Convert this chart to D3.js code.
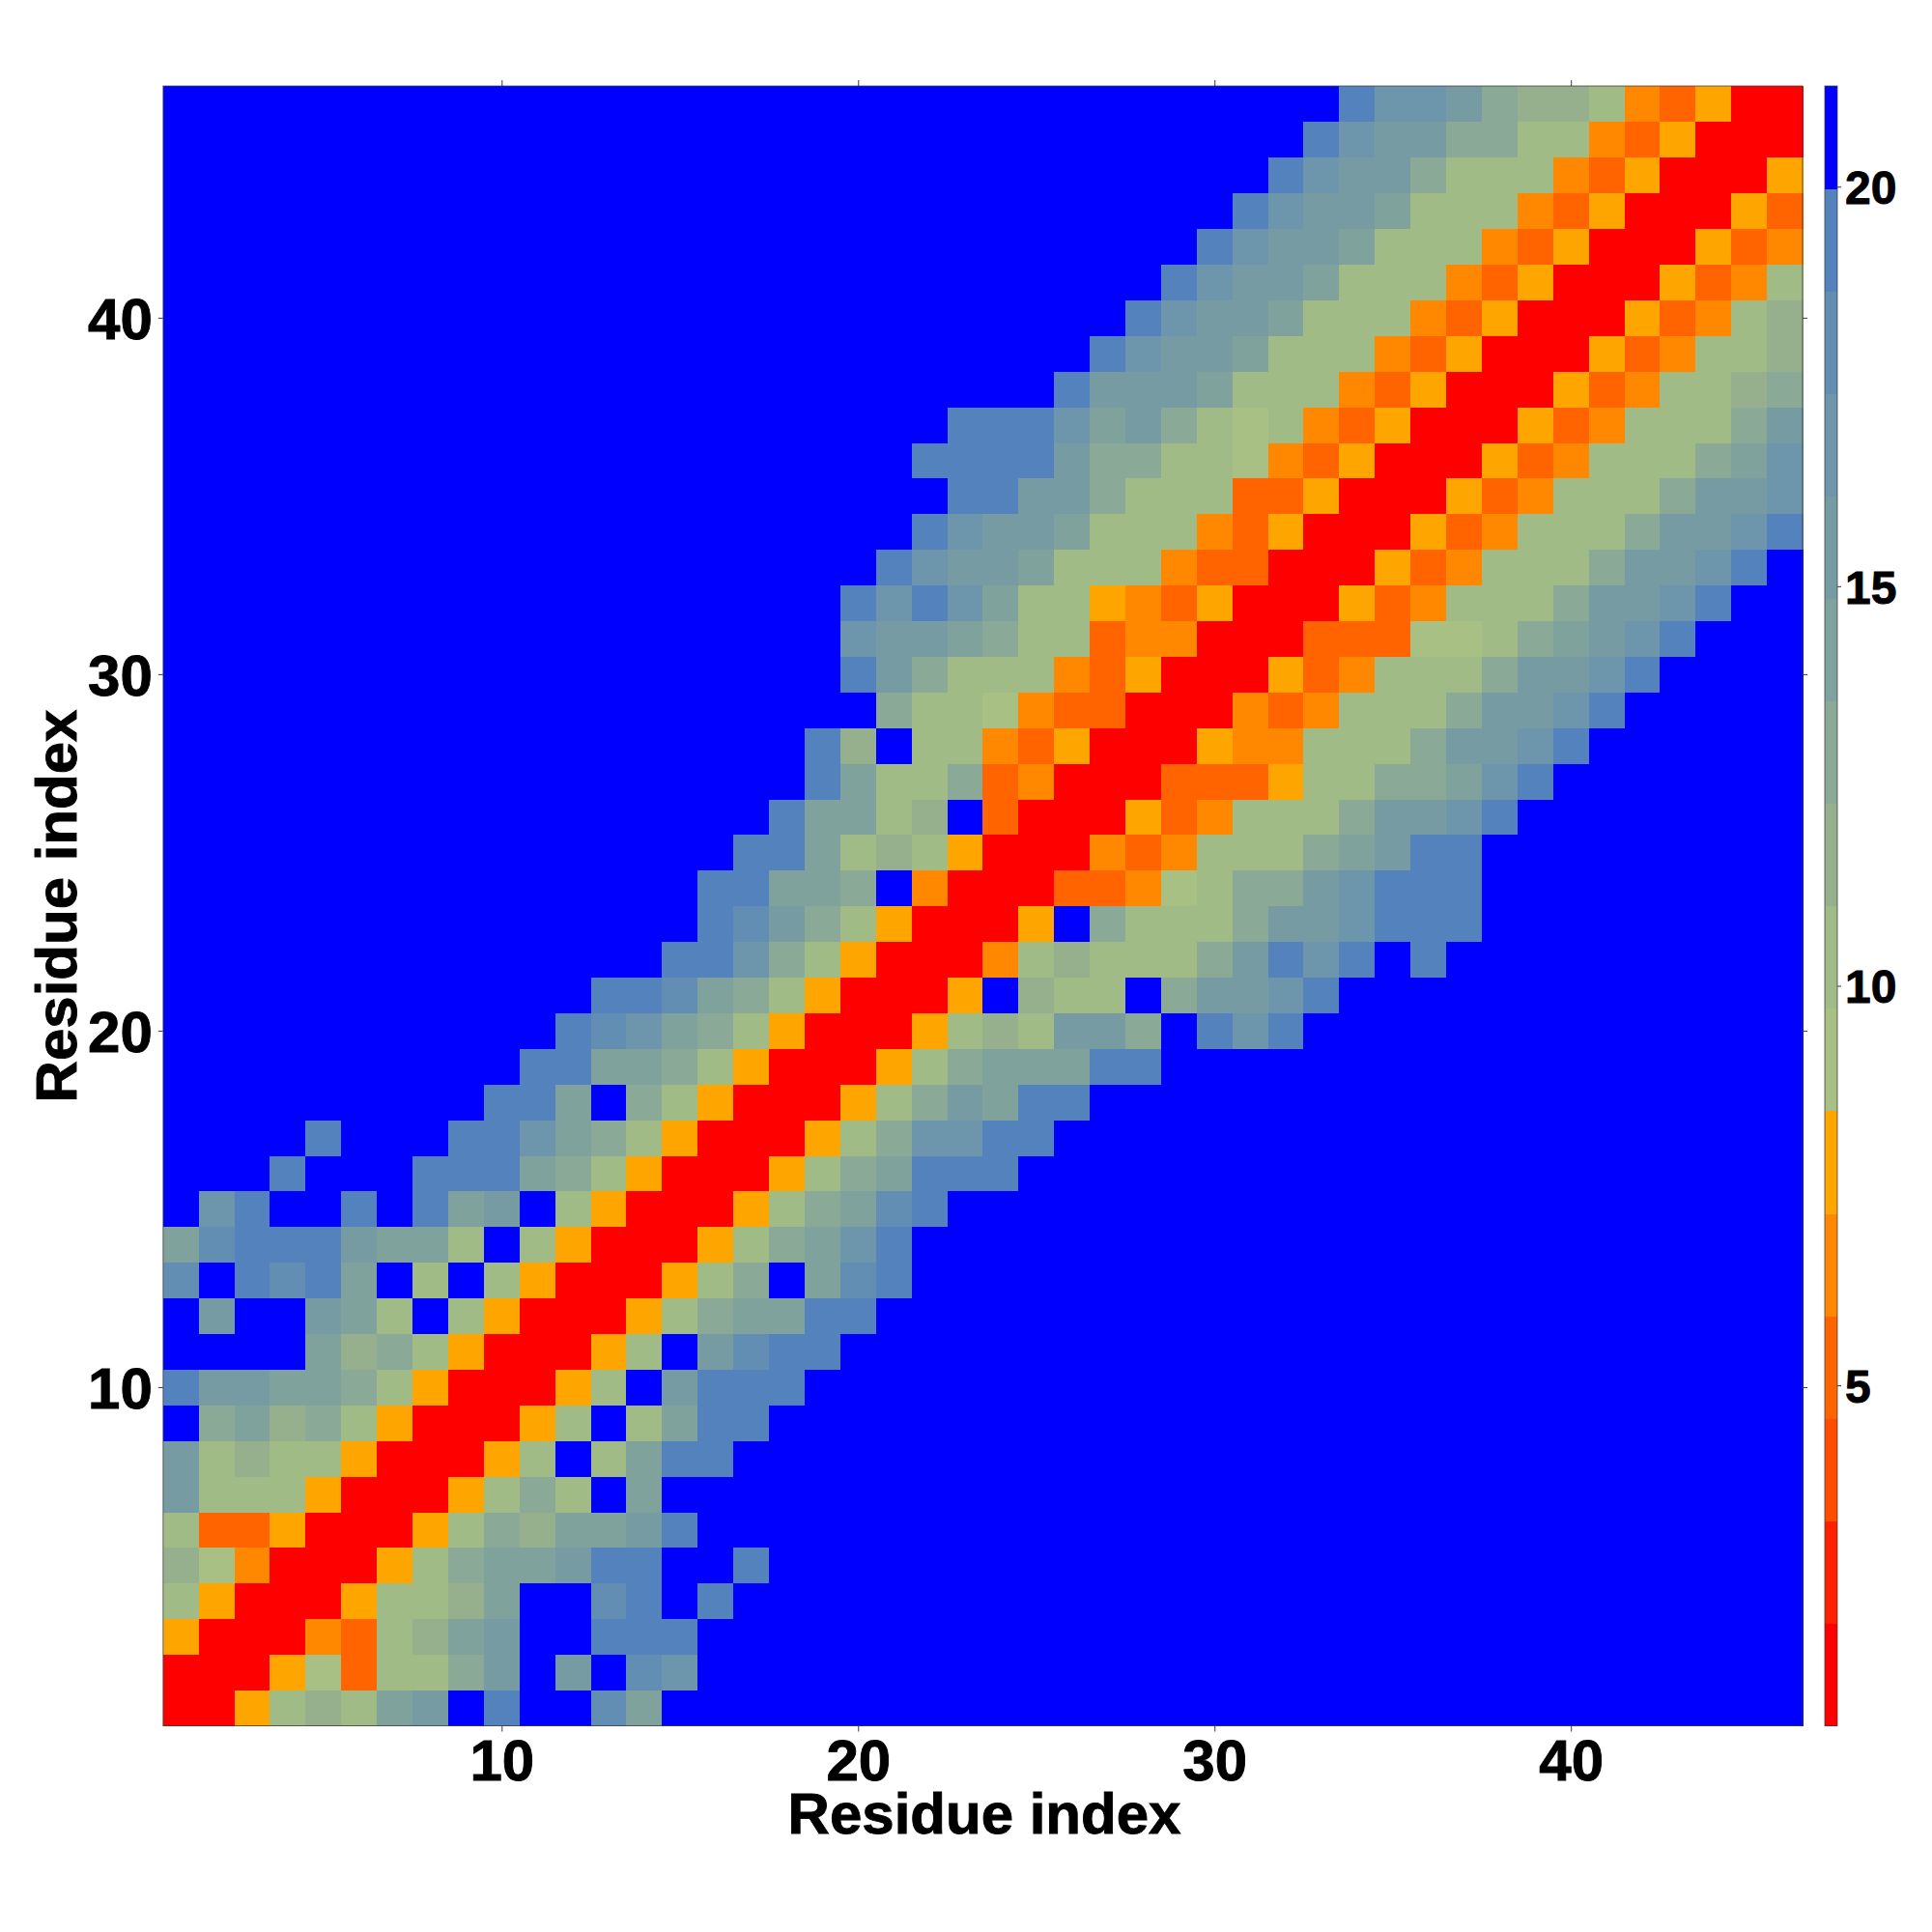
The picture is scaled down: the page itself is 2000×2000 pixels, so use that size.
<!DOCTYPE html>
<html>
<head>
<meta charset="utf-8">
<script src="https://cdnjs.cloudflare.com/ajax/libs/d3/7.8.5/d3.min.js"></script>
<style>
html,body{margin:0;padding:0;background:#fff;}
svg{display:block;}
text{font-family:"Liberation Sans",Arial,sans-serif;font-weight:700;fill:#000;stroke:#000;stroke-width:0.9;}
</style>
</head>
<body>
<div id="chart"></div>
<script>
const residueCount = 46;
const outsideValue = 21;
const axisTicks = [10, 20, 30, 40];
const colorbarTicks = [5, 10, 15, 20];
const axisTitle = "Residue index";
const valueDomain = [0.74, 21.26];
const bandColors = ["#ff0000","#ff2000","#ff4c00","#ff6400","#ff8800","#ffa500","#a8c084","#a0bb85","#96b08e","#8aa996","#7fa29c","#779ba3","#6d95ab","#628eb3","#5482bd","#0000ff"];

// first column that each row's list describes; columns outside a list hold outsideValue
const rowStart = [1,1,1,1,1,1,1,1,1,1,1,1,1,1,1,1,5,10,11,12,13,15,16,16,17,18,19,19,21,20,20,20,21,22,23,22,23,26,27,28,29,30,31,32,33,34];
const rowValues = [
[1,1,8,10,12,10,14,15,21,19,21,21,18,14],
[1,1,1,8,9,5,10,10,13,15,21,15,21,18,17],
[8,1,1,1,6,5,10,12,14,15,21,21,19,19,19],
[10,8,1,1,1,8,10,10,12,14,21,21,18,19,21,19],
[12,9,6,1,1,1,8,10,13,14,14,15,19,19,21,21,19],
[10,5,5,8,1,1,1,8,10,13,12,14,14,15,19],
[15,10,10,10,8,1,1,1,8,10,13,10,21,14],
[15,10,12,10,10,8,1,1,1,8,10,21,10,14,19,19],
[21,13,14,12,13,10,8,1,1,1,8,10,21,10,14,19,19],
[19,15,15,14,14,13,10,8,1,1,1,8,10,21,15,19,19,19],
[21,21,21,21,14,12,13,10,8,1,1,1,8,10,21,15,18,19,19],
[21,15,21,21,15,14,10,21,10,8,1,1,1,8,10,13,14,14,19,19],
[18,21,19,18,19,14,21,10,21,10,8,1,1,1,8,10,13,21,14,18,19],
[14,18,19,19,19,15,14,14,10,21,10,8,1,1,1,8,10,13,14,17,19],
[21,17,19,21,21,19,21,19,14,15,21,10,8,1,1,1,8,10,13,14,18,19],
[21,21,21,19,21,21,21,19,19,19,14,13,10,8,1,1,1,8,10,13,14,19,19,19],
[19,21,21,21,19,19,17,14,13,10,8,1,1,1,8,10,13,17,17,19,19],
[19,19,14,21,13,10,8,1,1,1,8,10,13,15,14,19,19],
[19,19,14,14,13,10,8,1,1,1,8,10,13,14,14,14,19,19],
[19,18,17,14,13,10,8,1,1,1,8,10,12,10,15,15,13,21,19,17,19],
[19,19,18,14,13,10,8,1,1,1,8,21,12,10,10,21,13,15,15,17,19],
[19,19,17,13,10,8,1,1,1,6,10,12,10,10,10,13,15,19,17,19,21,19],
[19,18,15,13,10,8,1,1,1,8,21,13,10,10,10,13,15,15,17,19,19,19],
[19,19,14,14,13,21,6,1,1,1,5,5,6,9,10,13,13,15,17,19,19,19],
[19,19,14,10,12,10,8,1,1,1,6,5,6,10,10,10,13,14,15,19,19],
[19,14,14,10,12,21,5,1,1,1,8,5,6,10,10,10,13,15,15,17,19],
[19,14,10,10,13,5,6,1,1,1,5,5,5,8,10,10,13,13,14,17,19],
[19,12,21,10,10,6,5,8,1,1,1,8,6,6,10,10,10,13,15,15,17,19],
[13,10,10,9,6,5,5,1,1,1,6,5,6,10,10,10,13,15,15,17,19],
[19,15,13,10,10,10,6,5,8,1,1,1,8,5,6,10,10,10,13,15,15,17,19],
[17,15,15,14,13,10,10,5,6,6,1,1,1,5,5,5,9,9,10,13,14,15,17,19],
[19,17,19,17,14,10,10,8,6,5,8,1,1,1,8,5,6,10,10,10,13,15,15,17,19],
[19,17,15,15,14,10,10,10,6,5,5,1,1,1,8,5,6,10,10,10,13,15,15,17,19],
[19,17,15,15,14,10,10,10,6,5,8,1,1,1,8,5,6,10,10,10,13,15,15,17,19],
[19,19,15,15,13,10,10,10,5,5,8,1,1,1,8,5,6,10,10,10,13,15,15,17],
[19,19,19,19,15,13,13,10,10,9,6,5,8,1,1,1,8,5,6,10,10,10,13,14,17],
[19,19,19,17,14,15,13,10,9,10,6,5,8,1,1,1,8,5,6,10,10,10,13,15],
[19,15,15,15,14,10,10,10,6,5,8,1,1,1,8,5,6,10,10,12,13],
[19,17,15,15,14,10,10,10,6,5,8,1,1,1,8,5,6,10,10,12],
[19,17,15,15,14,10,10,10,6,5,8,1,1,1,8,5,6,10,12],
[19,17,15,15,14,10,10,10,6,5,8,1,1,1,8,5,6,10],
[19,17,15,15,14,10,10,10,6,5,8,1,1,1,8,5,6],
[19,17,15,15,14,10,10,10,6,5,8,1,1,1,8,5],
[19,17,15,15,13,10,10,10,6,5,8,1,1,1,8],
[19,17,15,15,13,13,10,10,6,5,8,1,1,1],
[19,17,17,15,13,12,12,10,6,5,8,1,1]
];

const svg = d3.select("#chart").append("svg").attr("width", 2000).attr("height", 2000);
const plot = {left: 168.8, right: 1866, top: 89, bottom: 1786.5};
const bar = {left: 1889, right: 1902};

const x = d3.scaleLinear().domain([0.5, residueCount + 0.5]).range([plot.left, plot.right]);
const y = d3.scaleLinear().domain([0.5, residueCount + 0.5]).range([plot.bottom, plot.top]);
const color = d3.scaleQuantize().domain(valueDomain).range(bandColors);
const barY = d3.scaleLinear().domain(valueDomain).range([plot.bottom, plot.top]);

const cells = [];
rowValues.forEach((vals, r) => {
  for (let c = 1; c <= residueCount; c++) {
    const v = vals[c - rowStart[r]];
    cells.push({col: c, row: r + 1, value: v === undefined ? outsideValue : v});
  }
});

svg.append("g").attr("shape-rendering", "crispEdges")
  .selectAll("rect").data(cells).join("rect")
  .attr("x", d => x(d.col - 0.5))
  .attr("y", d => y(d.row + 0.5))
  .attr("width", d => x(d.col + 0.5) - x(d.col - 0.5) + 0.5)
  .attr("height", d => y(d.row - 0.5) - y(d.row + 0.5) + 0.5)
  .attr("fill", d => color(d.value));

// colorbar bands
const edges = [valueDomain[0], ...color.thresholds(), valueDomain[1]];
svg.append("g").attr("shape-rendering", "crispEdges")
  .selectAll("rect").data(bandColors).join("rect")
  .attr("x", bar.left)
  .attr("width", bar.right - bar.left)
  .attr("y", (d, i) => barY(edges[i + 1]))
  .attr("height", (d, i) => barY(edges[i]) - barY(edges[i + 1]) + 0.5)
  .attr("fill", d => d);

const lineColor = "#3a3a3a";
function style(g) {
  g.selectAll(".domain").remove();
  g.selectAll(".tick line").attr("stroke", lineColor).attr("stroke-width", 1);
}
const frame = (l, t, w, h) => svg.append("rect")
  .attr("x", l).attr("y", t).attr("width", w).attr("height", h)
  .attr("fill", "none").attr("stroke", lineColor).attr("stroke-opacity", 0.75).attr("stroke-width", 1);
frame(plot.left, plot.top, plot.right - plot.left, plot.bottom - plot.top);
frame(bar.left, plot.top, bar.right - bar.left, plot.bottom - plot.top);

svg.append("g").attr("transform", `translate(0,${plot.bottom})`)
  .call(d3.axisBottom(x).tickValues(axisTicks).tickSize(6).tickFormat(d3.format("d")))
  .call(style)
  .call(g => g.selectAll("text").attr("y", 56).attr("dy", 0).attr("font-size", 60)
    .style("font-family", '"Liberation Sans"').style("font-weight", 700));

svg.append("g").attr("transform", `translate(${plot.left},0)`)
  .call(d3.axisLeft(y).tickValues(axisTicks).tickSize(5).tickFormat(d3.format("d")))
  .call(style)
  .call(g => g.selectAll("text").attr("x", -11).attr("dy", "0.36em").attr("font-size", 60)
    .style("font-family", '"Liberation Sans"').style("font-weight", 700));

svg.append("g").attr("transform", `translate(0,${plot.top})`)
  .call(d3.axisTop(x).tickValues(axisTicks).tickSize(6).tickFormat(""))
  .call(style);
svg.append("g").attr("transform", `translate(${plot.right},0)`)
  .call(d3.axisRight(y).tickValues(axisTicks).tickSize(5).tickFormat(""))
  .call(style);

svg.append("g").attr("transform", `translate(${bar.right},0)`)
  .call(d3.axisRight(barY).tickValues(colorbarTicks).tickSize(4).tickFormat(d3.format("d")))
  .call(style)
  .call(g => g.selectAll("text").attr("x", 8).attr("dy", "0.36em").attr("font-size", 48)
    .style("font-family", '"Liberation Sans"').style("font-weight", 700));

svg.append("text").attr("x", 1019).attr("y", 1898).attr("text-anchor", "middle")
  .attr("font-size", 60).text(axisTitle);
svg.append("text").attr("transform", "translate(79,938) rotate(-90)").attr("text-anchor", "middle")
  .attr("font-size", 60).text(axisTitle);
</script>
</body>
</html>
